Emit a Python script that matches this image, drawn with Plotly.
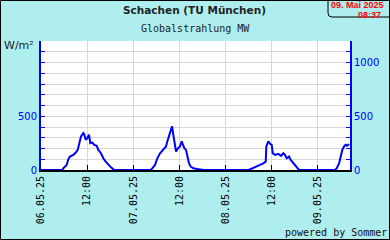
import pandas as pd
import plotly.graph_objects as go

# hours since 06.05.2025 00:00 and global radiation (W/m²)
hours = [0, 5.54, 5.8, 6.68, 7.1, 7.54, 8.4, 9.0, 9.54, 9.88, 10.4, 11.0, 11.26, 11.6, 12.04, 12.48,
         12.82, 13.34, 13.86, 14.48, 14.9, 15.6, 16.2, 16.82, 17.5, 18.2, 18.8, 19.1,
         28.5, 28.78, 29.64, 30.24, 30.94, 31.8, 32.5, 32.84, 33.36, 33.8, 34.06, 34.4, 34.76, 35.1,
         35.62, 36.14, 36.58, 36.84, 37.26, 37.7, 38.04, 38.48, 38.92, 39.6, 40.48, 42.1, 42.4,
         54.0, 54.35, 54.78, 56.08, 56.94, 57.8, 58.42, 58.58, 59.1, 59.54, 59.98, 60.24, 60.84,
         61.7, 62.4, 63.0, 63.44, 63.88, 64.48, 64.92, 65.6, 66.22, 66.74, 67.08,
         76.44, 76.89, 77.49, 77.93, 78.34, 78.78, 79.22, 79.64, 80.08]
values = [0, 0, 16, 47, 100, 125, 141, 160, 187, 250, 312, 344, 330, 281, 297, 328,
          250, 255, 234, 225, 187, 156, 109, 78, 47, 25, 6, 0,
          0, 9, 47, 109, 156, 187, 219, 266, 328, 390, 406, 328, 234, 172,
          203, 219, 266, 234, 203, 187, 125, 62, 31, 16, 9, 5, 0,
          0, 5, 16, 31, 47, 62, 78, 219, 266, 244, 234, 156, 141,
          150, 131, 156, 141, 109, 125, 94, 62, 31, 6, 0,
          0, 16, 62, 125, 187, 219, 234, 225, 244]

x_tick_hours = [0, 12, 24, 36, 48, 60, 72]
x_tick_text = ["06.05.25", "12:00", "07.05.25", "12:00", "08.05.25", "12:00", "09.05.25"]
y_ticks = list(range(0, 1201, 100))
y_left_text = ["0", "", "", "", "", "500", "", "", "", "", "", "", ""]
y_right_text = ["0", "", "", "", "", "500", "", "", "", "", "1000", "", ""]

start = pd.Timestamp("2025-05-06 00:00")
times = start + pd.to_timedelta(hours, unit="h")
x_ticks = start + pd.to_timedelta(x_tick_hours, unit="h")
x_end = pd.Timestamp("2025-05-09 08:20")

BG = "#AFEEEE"
BLUE = "#0000FF"
GRID = "#D8D8D8"

fig = go.Figure()
fig.add_trace(go.Scatter(x=times, y=values, mode="lines",
                         line=dict(color=BLUE, width=2), hoverinfo="skip"))
fig.add_trace(go.Scatter(x=[times[0]], y=[0], yaxis="y2", mode="lines",
                         line=dict(width=0), showlegend=False, hoverinfo="skip"))

L, R, T, B = 41, 350, 41, 170
W, H = 390, 240

def px(x):
    return (x - L) / (R - L)

def py(y):
    return (B - y) / (B - T)

fig.update_layout(
    width=W, height=H,
    margin=dict(l=L, r=W - R, t=T, b=H - B),
    paper_bgcolor=BG, plot_bgcolor="white",
    showlegend=False,
    xaxis=dict(type="date", range=[start, x_end], tickvals=x_ticks, ticktext=x_tick_text,
               tickangle=-90, ticks="inside", ticklen=5, tickcolor="black", tickwidth=1,
               showgrid=True, gridcolor=GRID, gridwidth=1,
               showline=True, linecolor="black", linewidth=2,
               tickfont=dict(family="DejaVu Sans Mono", size=10, color="black"),
               zeroline=False, fixedrange=True),
    yaxis=dict(range=[0, 1200], tickvals=y_ticks, ticktext=y_left_text,
               ticks="inside", ticklen=4, tickcolor=BLUE, tickwidth=1,
               showgrid=True, gridcolor=GRID, gridwidth=1,
               showline=True, linecolor=BLUE, linewidth=2,
               tickfont=dict(family="DejaVu Sans", size=10, color=BLUE),
               zeroline=False, fixedrange=True),
    yaxis2=dict(range=[0, 1200], tickvals=y_ticks, ticktext=y_right_text, overlaying="y",
                side="right", ticks="inside", ticklen=4, tickcolor=BLUE, tickwidth=1,
                showgrid=False, showline=True, linecolor=BLUE, linewidth=2,
                tickfont=dict(family="DejaVu Sans", size=10, color=BLUE),
                zeroline=False, fixedrange=True),
)

ann = [
    dict(text="<b>Schachen (TU München)</b>", x=px(194), y=py(10), size=10.5,
         family="DejaVu Sans", color="#222222", anchor="center"),
    dict(text="Globalstrahlung MW", x=px(195), y=py(28), size=10,
         family="DejaVu Sans Mono", color="#222222", anchor="center"),
    dict(text="powered by Sommer", x=px(336), y=py(232), size=10,
         family="DejaVu Sans Mono", color="#111111", anchor="center"),
    dict(text="W/m²", x=px(19), y=py(46), size=11, family="DejaVu Sans", color="#222222",
         anchor="center"),
    dict(text="<b>09. Mai 2025</b>", x=px(386), y=py(5), size=9,
         family="Liberation Sans", color="#FF0000", anchor="right"),
    dict(text="<b>08:37</b>", x=px(383), y=py(15), size=9,
         family="Liberation Sans", color="#FF0000", anchor="right"),
]
for a in ann:
    fig.add_annotation(text=a["text"], x=a["x"], y=a["y"], xref="paper", yref="paper",
                       showarrow=False, xanchor=a["anchor"], yanchor="middle",
                       font=dict(family=a["family"], size=a["size"], color=a["color"]))

# rounded date box
x0, x1, y0, y1, r = px(328), px(392), py(-2), py(17), 4
fig.add_shape(type="path", xref="paper", yref="paper",
              path=f"M {x0} {y0} L {x0} {py(17 - r)} Q {x0} {y1} {px(328 + r)} {y1} L {x1} {y1}",
              line=dict(color="black", width=1))
# outer frame
fig.add_shape(type="rect", xref="paper", yref="paper",
              x0=px(0.5), x1=px(389.5), y0=py(0.5), y1=py(239.5),
              line=dict(color="black", width=1))

fig.write_html("out.html")
